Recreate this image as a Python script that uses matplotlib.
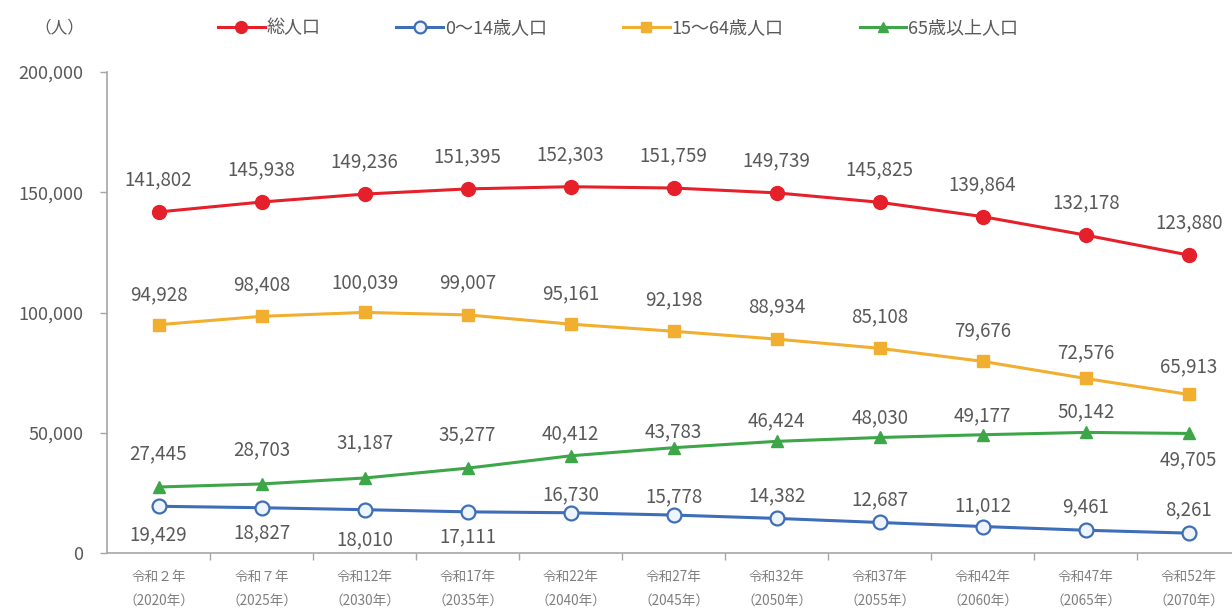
import matplotlib
matplotlib.use("Agg")
import matplotlib.pyplot as plt
from matplotlib.ticker import FuncFormatter, FixedLocator

plt.rcParams['font.family'] = ['Noto Sans CJK JP', 'DejaVu Sans']

# ---- data ----
categories = ["令和２年\n（2020年）", "令和７年\n（2025年）", "令和12年\n（2030年）",
              "令和17年\n（2035年）", "令和22年\n（2040年）", "令和27年\n（2045年）",
              "令和32年\n（2050年）", "令和37年\n（2055年）", "令和42年\n（2060年）",
              "令和47年\n（2065年）", "令和52年\n（2070年）"]
total = [141802, 145938, 149236, 151395, 152303, 151759, 149739, 145825, 139864, 132178, 123880]
age0_14 = [19429, 18827, 18010, 17111, 16730, 15778, 14382, 12687, 11012, 9461, 8261]
age15_64 = [94928, 98408, 100039, 99007, 95161, 92198, 88934, 85108, 79676, 72576, 65913]
age65 = [27445, 28703, 31187, 35277, 40412, 43783, 46424, 48030, 49177, 50142, 49705]
series_names = ["総人口", "0～14歳人口", "15～64歳人口", "65歳以上人口"]

# ---- layout: label offsets (pixels, + above / - below) ----
off_total = [32] * 11
off_0_14 = [-29, -25, -30, -25, 18, 18, 23, 23, 21, 23, 23]
off_15_64 = [30, 32, 30, 32, 30, 31, 32, 32, 31, 26, 28]
off_65 = [33, 34, 35, 33, 22, 16, 21, 20, 19, 21, -26]

W, H = 1232, 613
fig = plt.figure(figsize=(W / 100, H / 100), dpi=100)
ax = fig.add_axes([107 / W, 60 / H, (W - 107) / W, (553 - 72) / H])

x = list(range(len(categories)))
red = "#E5202A"
blue = "#3F6EB8"
orange = "#F2AE2E"
green = "#3DA648"
txt = "#595959"

ax.plot(x, total, color=red, lw=2.2, marker="o", ms=10, mfc=red, mec=red, label=series_names[0], zorder=4)
ax.plot(x, age0_14, color=blue, lw=2.2, marker="o", ms=10, mfc="#EEF4FB", mec=blue, mew=1.6, label=series_names[1], zorder=4)
ax.plot(x, age15_64, color=orange, lw=2.2, marker="s", ms=9, mfc=orange, mec=orange, label=series_names[2], zorder=4)
ax.plot(x, age65, color=green, lw=2.2, marker="^", ms=9, mfc=green, mec=green, label=series_names[3], zorder=4)

for vals, offs in [(total, off_total), (age0_14, off_0_14), (age15_64, off_15_64), (age65, off_65)]:
    for xi, v, o in zip(x, vals, offs):
        ax.annotate(f"{v:,}", (xi, v), xytext=(0, o * 0.72), textcoords="offset points",
                    ha="center", va="center", fontsize=13.5, color=txt, zorder=5)

ax.set_xlim(-0.5, 10.42)
ax.set_ylim(0, 200000)
ax.set_yticks([0, 50000, 100000, 150000, 200000])
ax.yaxis.set_major_formatter(FuncFormatter(lambda v, p: f"{int(v):,}"))
ax.tick_params(axis="y", direction="out", length=5, width=1, color="#A6A6A6",
               labelsize=13, labelcolor=txt, pad=12)

ax.set_xticks(x)
ax.set_xticklabels(categories, fontsize=9.8, color="#7F7F7F", linespacing=1.9)
ax.tick_params(axis="x", which="major", length=0, pad=12)
ax.xaxis.set_minor_locator(FixedLocator([i + 0.5 for i in range(len(categories))]))
ax.tick_params(axis="x", which="minor", direction="out", length=5, width=1, color="#A6A6A6")

for s in ["top", "right"]:
    ax.spines[s].set_visible(False)
for s in ["left", "bottom"]:
    ax.spines[s].set_color("#A6A6A6")
    ax.spines[s].set_linewidth(1.2)

leg = fig.legend(loc="center", bbox_to_anchor=(618 / W, 1 - 28 / H), ncol=4, frameon=False,
                 fontsize=13, handlelength=2.6, handletextpad=0.1, columnspacing=4.2,
                 markerscale=0.85)
for t in leg.get_texts():
    t.set_color(txt)

fig.text(59 / W, 1 - 28 / H, "（人）", ha="center", va="center", fontsize=12, color=txt)

fig.savefig("out.png", dpi=100)
